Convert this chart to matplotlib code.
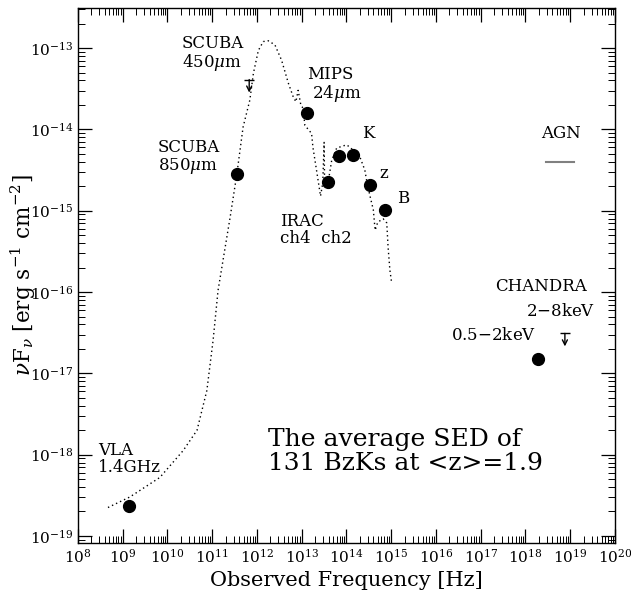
import matplotlib
matplotlib.use('Agg')
import matplotlib.pyplot as plt
from matplotlib.ticker import LogLocator, NullFormatter

plt.rcParams['font.family'] = ['DejaVu Serif']
plt.rcParams['mathtext.fontset'] = 'dejavuserif'

# average SED template (observed frame), log10 nu and log10 nuFnu
sed_lognu = [8.67, 9.16, 9.83, 10.35, 10.66, 10.88, 11.02, 11.13, 11.40, 11.55,
             11.69, 11.84, 11.92, 12.03, 12.14, 12.25, 12.40, 12.55, 12.70, 12.81,
             12.87, 12.92, 12.98, 13.03, 13.07, 13.22, 13.25, 13.33, 13.42, 13.47,
             13.50, 13.51, 13.59, 13.67, 13.78, 14.00, 14.08, 14.30, 14.41, 14.46,
             14.53, 14.60, 14.64, 14.70, 14.82, 14.90, 14.93, 14.97, 15.01]
sed_lognufnu = [-18.65, -18.52, -18.28, -17.95, -17.70, -17.21, -16.59, -15.98, -15.08, -14.55,
                -13.97, -13.64, -13.31, -13.03, -12.92, -12.91, -12.96, -13.15, -13.43, -13.60,
                -13.66, -13.52, -13.70, -13.74, -13.95, -14.05, -14.22, -14.50, -14.82, -14.66,
                -14.16, -14.62, -14.65, -14.38, -14.23, -14.19, -14.22, -14.34, -14.50, -14.66,
                -14.83, -14.99, -15.24, -15.14, -15.10, -15.15, -15.45, -15.73, -15.89]

# detections
det_nu = [1.4e9, 3.55e11, 1.28e13, 3.95e13, 6.8e13, 1.42e14, 3.3e14, 7.1e14, 1.9e18]
det_flux = [2.35e-19, 2.8e-15, 1.58e-14, 2.25e-15, 4.7e-15, 4.8e-15, 2.05e-15, 1.02e-15, 1.5e-17]

# upper limits (SCUBA 450um, Chandra 2-8keV)
lim_nu = [6.7e11, 7.6e18]
lim_flux = [4.1e-14, 3.1e-17]

# AGN marker line
agn_nu = [2.95e18, 1.23e19]
agn_flux = [4.0e-15, 4.0e-15]

# label text, log10 x, log10 y, horizontal alignment
labels = [
    ('SCUBA\n450$\\mu$m', 10.32, -13.07, 'left'),
    ('SCUBA\n850$\\mu$m', 9.79, -14.35, 'left'),
    ('MIPS\n 24$\\mu$m', 13.12, -13.46, 'left'),
    ('K', 14.35, -14.045, 'left'),
    ('z', 14.73, -14.54, 'left'),
    ('B', 15.13, -14.845, 'left'),
    ('IRAC\nch4  ch2', 12.51, -15.24, 'left'),
    ('AGN', 18.35, -14.045, 'left'),
    ('CHANDRA', 17.32, -15.93, 'left'),
    ('2$-$8keV', 19.55, -16.24, 'right'),
    ('0.5$-$2keV', 16.34, -16.53, 'left'),
    ('VLA\n1.4GHz', 8.45, -18.055, 'left'),
]

fig = plt.figure(figsize=(6.31, 5.97), dpi=100)
ax = fig.add_axes([0.1236, 0.0905, 0.851, 0.896])

ax.plot([10 ** v for v in sed_lognu], [10 ** v for v in sed_lognufnu],
        ls=(0, (1, 2.2)), color='black', lw=1.0)
ax.plot(det_nu, det_flux, 'o', color='black', ms=8.5)
for nu, f in zip(lim_nu, lim_flux):
    ax.plot([nu], [f], marker='_', color='black', ms=7, mew=1.0)
    ax.annotate('', xy=(nu, f * 10 ** -0.16), xytext=(nu, f),
                arrowprops=dict(arrowstyle='->', lw=1.0, color='black',
                                shrinkA=0, shrinkB=0, mutation_scale=9))
ax.plot(agn_nu, agn_flux, '-', color='gray', lw=1.5)

for txt, lx, ly, ha in labels:
    ax.text(10 ** lx, 10 ** ly, txt, fontsize=12, ha=ha, va='center', linespacing=1.0)

ax.text(10 ** 12.246, 10 ** -17.963, 'The average SED of\n131 BzKs at <z>=1.9',
        fontsize=18, ha='left', va='center', linespacing=1.04)

ax.set_xscale('log')
ax.set_yscale('log')
ax.set_xlim(1e8, 1e20)
ax.set_ylim(10 ** -19.086, 10 ** -12.508)

ax.xaxis.set_major_locator(LogLocator(base=10, numticks=20))
ax.xaxis.set_minor_locator(LogLocator(base=10, subs=range(2, 10), numticks=200))
ax.xaxis.set_minor_formatter(NullFormatter())
ax.yaxis.set_major_locator(LogLocator(base=10, numticks=20))
ax.yaxis.set_minor_locator(LogLocator(base=10, subs=range(2, 10), numticks=200))
ax.yaxis.set_minor_formatter(NullFormatter())
ax.tick_params(which='both', direction='in', top=True, right=True, labelsize=11)
ax.tick_params(which='major', length=10, width=0.9)
ax.tick_params(which='minor', length=5, width=0.7)
for s in ax.spines.values():
    s.set_linewidth(1.0)

ax.set_xlabel('Observed Frequency [Hz]', fontsize=15, labelpad=4)
ax.set_ylabel(r'$\nu$F$_\nu$ [erg s$^{-1}$ cm$^{-2}$]', fontsize=15.5, labelpad=-6)

fig.savefig('out.png', dpi=100)
